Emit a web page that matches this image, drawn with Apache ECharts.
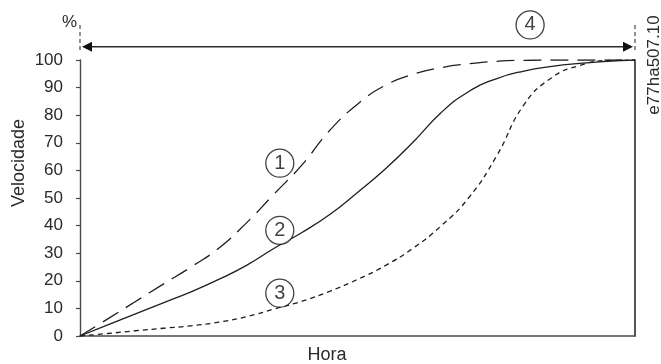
<!DOCTYPE html>
<html>
<head>
<meta charset="utf-8">
<script src="https://cdn.jsdelivr.net/npm/echarts@6/dist/echarts.min.js"></script>
<style>
  html, body { margin: 0; padding: 0; background: #fff; }
  #chart { width: 661px; height: 364px; }
</style>
</head>
<body>
<div id="chart"></div>
<script>
// Time axis, in percent of the ramp duration
const timePct = [0, 5, 10, 15, 20, 25, 30, 35, 40, 45, 50, 55, 60, 65, 70, 75, 80, 85, 90, 95, 100];

// Speed (%) for the three ramp profiles
const speedCurve1 = [0, 6.2, 12.5, 18.8, 25, 31.8, 41, 51.5, 62, 74.5, 84, 90.8, 94.8, 97.2, 98.6, 99.5, 99.9, 100, 100, 100, 100];
const speedCurve2 = [0, 4, 8, 12, 16, 20.5, 25.6, 31.8, 37.5, 44, 52, 60.5, 70.2, 80.8, 88.5, 93.2, 96, 97.7, 98.8, 99.5, 100];
const speedCurve3 = [0, 0.9, 1.9, 2.8, 3.7, 5, 7, 9.8, 12.6, 16.2, 20.5, 25.5, 31.8, 39.8, 50, 65, 83.8, 93.6, 98, 99.8, 100];

// Numbered callouts: label, time, speed
const calloutText = ['1', '2', '3', '4'];
const calloutTime = [36, 36, 36, 81.1];
const calloutSpeed = [62.6, 38.3, 15.5, 112.7];

// Duration arrow (4) and its dashed end markers
const arrowSpeed = 104.8;
const markerTop = 112.7;
const markerBottom = 103.6;

const yMin = 0, yMax = 100, yStep = 10;

const FONT = 'Liberation Sans, Arial, sans-serif';
const INK = '#1e1e1e';
const AXIS = '#4a4a4a';
const TEXT = '#2a2a2a';

const pairs = (xs, ys) => xs.map((x, i) => [x, ys[i]]);

const chart = echarts.init(document.getElementById('chart'), null, { renderer: 'canvas' });

const lineSeries = (name, values, dash) => ({
  name, type: 'line', data: pairs(timePct, values),
  smooth: 0.5, showSymbol: false, symbol: 'none',
  lineStyle: { color: INK, width: 1.3, type: dash }
});

chart.setOption({
  animation: false,
  backgroundColor: '#fff',
  grid: { left: 80, right: 26, top: 60, bottom: 28, containLabel: false },
  xAxis: {
    type: 'value', min: 0, max: 100,
    axisLine: { show: true, lineStyle: { color: AXIS, width: 1.6 } },
    axisTick: { show: false },
    axisLabel: { show: false },
    splitLine: { show: false }
  },
  yAxis: [{
    type: 'value', min: yMin, max: yMax, interval: yStep,
    axisLine: { show: true, lineStyle: { color: AXIS, width: 1.4 } },
    axisTick: { show: true, length: 4, lineStyle: { color: AXIS, width: 1.2 } },
    axisLabel: { color: TEXT, fontSize: 17, fontFamily: FONT, margin: 17 },
    splitLine: { show: false }
  }, {
    type: 'value', min: yMin, max: yMax, position: 'right',
    axisLine: { show: true, lineStyle: { color: TEXT, width: 1.6 } },
    axisTick: { show: false },
    axisLabel: { show: false },
    splitLine: { show: false }
  }],
  series: [
    lineSeries('curve1', speedCurve1, [18, 9]),
    lineSeries('curve2', speedCurve2, 'solid'),
    lineSeries('curve3', speedCurve3, [5, 4]),
    {
      name: 'callouts', type: 'scatter', clip: false, z: 5,
      data: calloutText.map((t, i) => ({ value: [calloutTime[i], calloutSpeed[i]], name: t })),
      symbol: 'circle', symbolSize: 28,
      itemStyle: { color: '#fff', borderColor: '#111', borderWidth: 1.3 },
      label: { show: true, position: 'inside', formatter: p => p.name, color: '#111', fontSize: 20, fontFamily: FONT }
    }
  ]
});

// Duration arrow and dashed end markers above the plot, placed through the axis scales
const px = (t, v) => chart.convertToPixel({ gridIndex: 0 }, [t, v]);
const a0 = px(0, arrowSpeed), a1 = px(100, arrowSpeed);
const mB0 = px(0, markerBottom), mT0 = px(0, markerTop);
const mB1 = px(100, markerBottom), mT1 = px(100, markerTop);
const head = 10, half = 5;

chart.setOption({
  graphic: [
    { type: 'text', left: 62, top: 14, style: { text: '%', fill: TEXT, font: '17px ' + FONT } },
    { type: 'text', x: 327, y: 355, style: { text: 'Hora', fill: TEXT, font: '18px ' + FONT, textAlign: 'center', textVerticalAlign: 'middle' } },
    { type: 'text', x: 19, y: 163, rotation: Math.PI / 2, style: { text: 'Velocidade', fill: TEXT, font: '18px ' + FONT, textAlign: 'center', textVerticalAlign: 'middle' } },
    { type: 'text', x: 654, y: 65, rotation: Math.PI / 2, style: { text: 'e77ha507.10', fill: TEXT, font: '17px ' + FONT, textAlign: 'center', textVerticalAlign: 'middle' } },
    { type: 'line', shape: { x1: mB0[0], y1: mB0[1], x2: mT0[0], y2: mT0[1] }, style: { stroke: '#555', lineWidth: 1.3, lineDash: [4, 3] } },
    { type: 'line', shape: { x1: mB1[0], y1: mB1[1], x2: mT1[0], y2: mT1[1] }, style: { stroke: '#555', lineWidth: 1.3, lineDash: [4, 3] } },
    { type: 'line', shape: { x1: a0[0] + 4, y1: a0[1], x2: a1[0] - 4, y2: a1[1] }, style: { stroke: TEXT, lineWidth: 1.5 } },
    { type: 'polygon', shape: { points: [[a0[0] + 2, a0[1]], [a0[0] + 2 + head, a0[1] - half], [a0[0] + 2 + head, a0[1] + half]] }, style: { fill: '#111' } },
    { type: 'polygon', shape: { points: [[a1[0] - 2, a1[1]], [a1[0] - 2 - head, a1[1] - half], [a1[0] - 2 - head, a1[1] + half]] }, style: { fill: '#111' } }
  ]
});
</script>
</body>
</html>
